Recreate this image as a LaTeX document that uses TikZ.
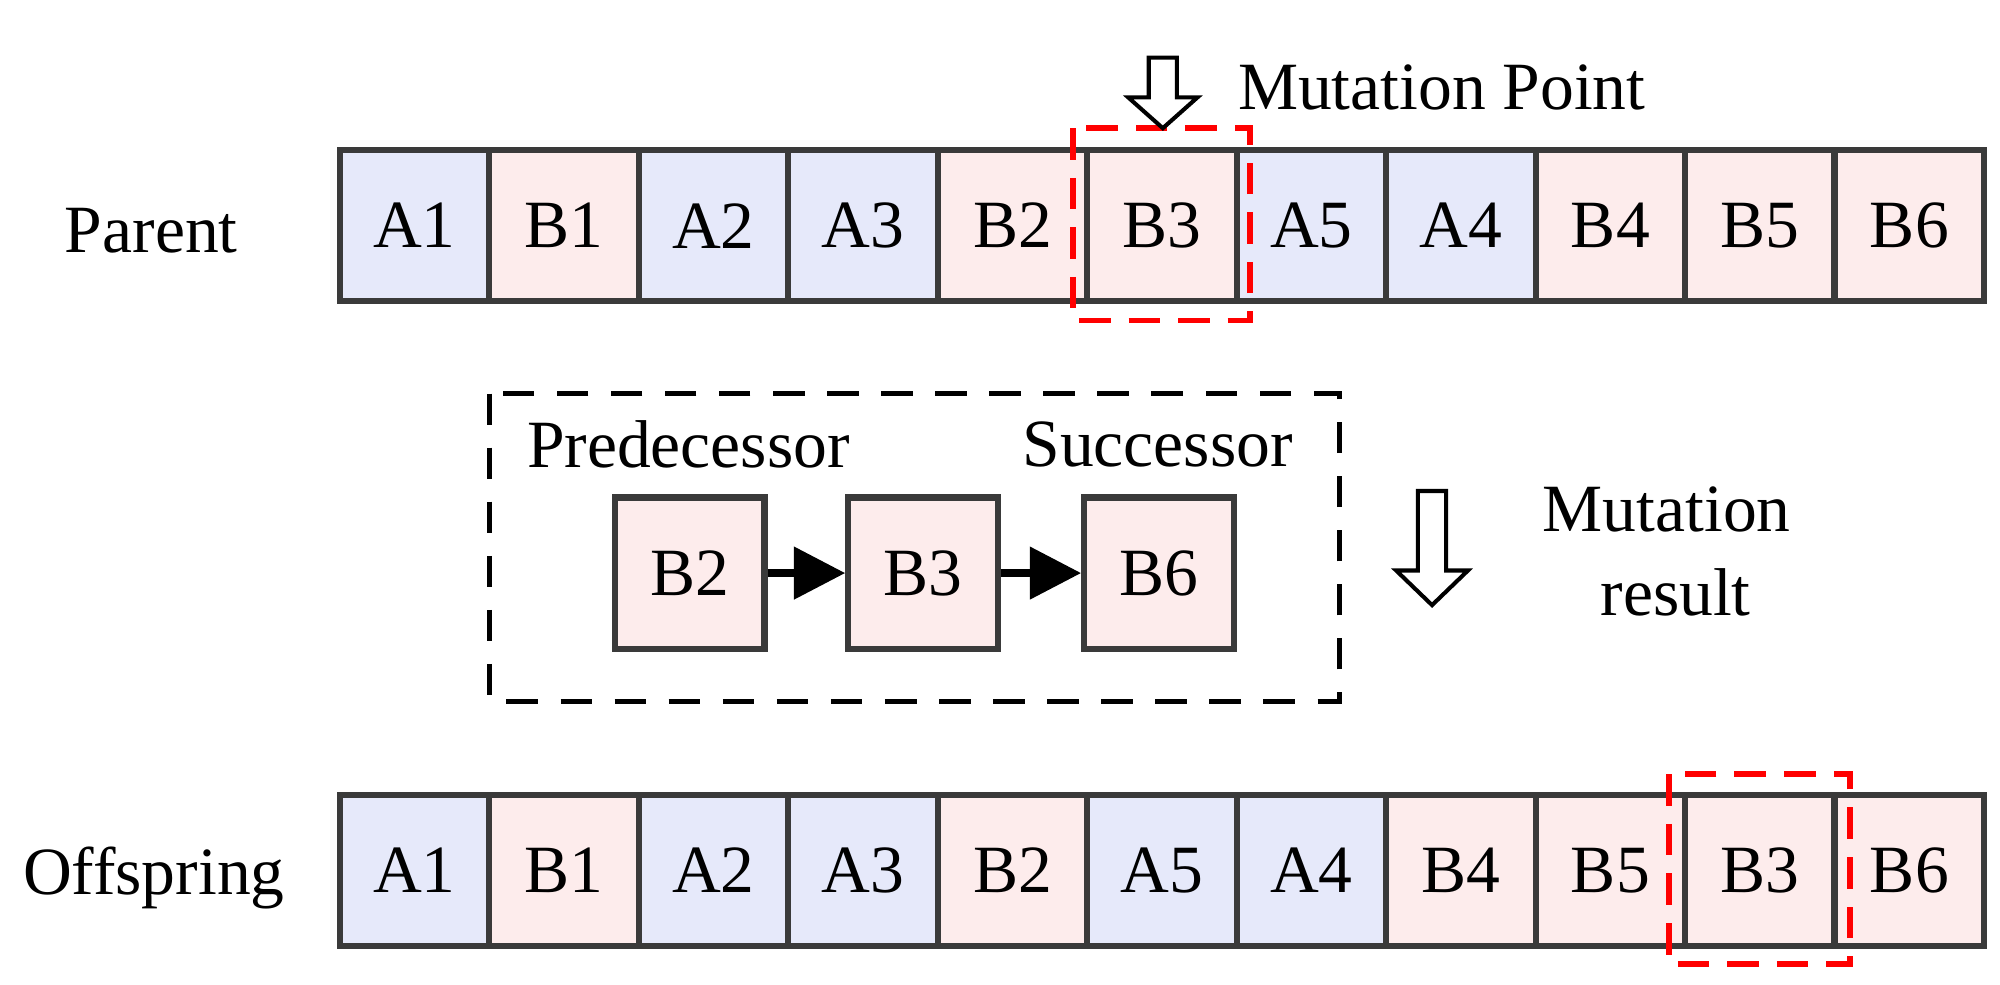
\documentclass[tikz,border=0pt]{standalone}
\usepackage{fontspec}
\setmainfont{Liberation Serif}
\usetikzlibrary{arrows.meta}
\definecolor{cA}{HTML}{E6E9FA}
\definecolor{cB}{HTML}{FDECEC}
\definecolor{bd}{HTML}{3A3A3A}
\begin{document}
\begin{tikzpicture}[x=0.1mm,y=-0.1mm,
 cell/.style={draw=bd,line width=1.4pt,minimum width=11.66mm,minimum height=11.8mm,inner sep=0,font=\fontsize{15}{15}\selectfont},
 ca/.style={cell,fill=cA}, cb/.style={cell,fill=cB},
 lbl/.style={font=\fontsize{15}{15}\selectfont,inner sep=0},
 red/.style={draw=red,line width=1.3pt,dash pattern=on 7pt off 4pt},
 hol/.style={draw=black,line width=0.9pt,fill=white}]
\useasboundingbox (0,0) rectangle (1560,768);
% parent
\foreach \t/\s [count=\i from 0] in {A1/ca,B1/cb,A2/ca,A3/ca,B2/cb,B3/cb,A5/ca,A4/ca,B4/cb,B5/cb,B6/cb}
  \node[\s] (p\i) at ({265+58.3+116.6*\i},176) {\t};
\foreach \t/\s [count=\i from 0] in {A1/ca,B1/cb,A2/ca,A3/ca,B2/cb,A5/ca,A4/ca,B4/cb,B5/cb,B3/cb,B6/cb}
  \node[\s] (o\i) at ({265+58.3+116.6*\i},679) {\t};
\node[lbl] (parent) at (118,180) {Parent};
\node[lbl] (off) at (120,685) {Offspring};
\draw[red] (837,100) rectangle (975,250);
\draw[red] (1302,604) rectangle (1443,752);
% hollow arrow 1
\draw[hol] (896,45) -- (918,45) -- (918,76) -- (934,76) -- (907,100) -- (880,76) -- (896,76) -- cycle;
\node[lbl,anchor=west] (mp) at (965,68) {Mutation Point};
% dashed box
\draw[line width=1.1pt,dash pattern=on 7pt off 5pt] (382,307) rectangle (1045,547);
\node[lbl] (pred) at (537,347) {Predecessor};
\node[lbl] (succ) at (903,347) {Successor};
\node[cb] (s1) at (538,447) {B2};
\node[cb] (s2) at (720,447) {B3};
\node[cb] (s3) at (904,447) {B6};
\draw[line width=1.6pt,-{Triangle[length=4mm,width=4mm]}] (s1) -- (s2);
\draw[line width=1.6pt,-{Triangle[length=4mm,width=4mm]}] (s2) -- (s3);
% hollow arrow 2
\draw[hol] (1106,383) -- (1128,383) -- (1128,445) -- (1145,445) -- (1117,472) -- (1089,445) -- (1106,445) -- cycle;
\node[lbl] (m1) at (1300,397) {Mutation};
\node[lbl] (m2) at (1307,462) {result};
\end{tikzpicture}
\end{document}
